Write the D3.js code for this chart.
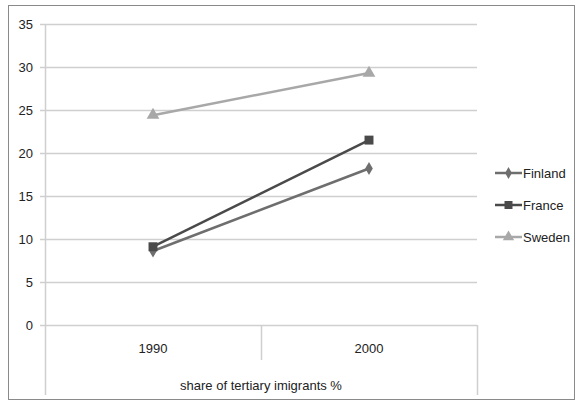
<!DOCTYPE html>
<html>
<head>
<meta charset="utf-8">
<script src="https://cdn.jsdelivr.net/npm/d3@7"></script>
<style>
  body { margin: 0; background: #fff; }
  text { font-family: "Liberation Sans", "DejaVu Sans", sans-serif; font-size: 13px; fill: #222; }
</style>
</head>
<body>
<script>
// data
var years = ["1990", "2000"];
var yTicks = [0, 5, 10, 15, 20, 25, 30, 35];
var finland = [8.6, 18.2];
var france = [9.1, 21.5];
var sweden = [24.4, 29.3];
var seriesNames = ["Finland", "France", "Sweden"];
var seriesColors = ["#6e6e6e", "#4a4a4a", "#a8a8a8"];
var axisTitle = "share of tertiary imigrants %";

var w = 578, h = 402;
var margin = {top: 24, right: 101, bottom: 77, left: 45};

var svg = d3.select("body").append("svg")
    .attr("width", w)
    .attr("height", h);

// outer frame
svg.append("rect")
    .attr("x", 8.5).attr("y", 5.5)
    .attr("width", 566).attr("height", 394)
    .attr("fill", "#fff").attr("stroke", "#8a8a8a");

var x = d3.scaleBand().domain(years).range([margin.left, w - margin.right]);
var y = d3.scaleLinear().domain([0, 35]).range([h - margin.bottom, margin.top]);

// gridlines
svg.append("g").selectAll("line")
    .data(yTicks)
    .enter().append("line")
    .attr("x1", margin.left - 5).attr("x2", w - margin.right)
    .attr("y1", function(d) { return Math.round(y(d)) + 0.5; })
    .attr("y2", function(d) { return Math.round(y(d)) + 0.5; })
    .attr("stroke", "#cfcfcf").attr("stroke-width", 1.5);

// y axis line
svg.append("line")
    .attr("x1", margin.left + 0.5).attr("x2", margin.left + 0.5)
    .attr("y1", y(35)).attr("y2", h - 7)
    .attr("stroke", "#cfcfcf").attr("stroke-width", 1.5);

// y labels
svg.append("g").selectAll("text")
    .data(yTicks)
    .enter().append("text")
    .attr("x", 33)
    .attr("y", function(d) { return y(d); })
    .attr("dy", "0.35em")
    .style("text-anchor", "end")
    .text(function(d) { return d; });

// category axis boxes
var y0 = y(0);
svg.append("line")
    .attr("x1", x("2000") + 0.5).attr("x2", x("2000") + 0.5)
    .attr("y1", y0).attr("y2", y0 + 35)
    .attr("stroke", "#cfcfcf").attr("stroke-width", 1.5);
svg.append("line")
    .attr("x1", w - margin.right + 0.5).attr("x2", w - margin.right + 0.5)
    .attr("y1", y0).attr("y2", h - 7)
    .attr("stroke", "#cfcfcf").attr("stroke-width", 1.5);

svg.append("g").selectAll("text")
    .data(years)
    .enter().append("text")
    .attr("x", function(d) { return x(d) + x.bandwidth() / 2; })
    .attr("y", y0 + 28)
    .style("text-anchor", "middle")
    .text(function(d) { return d; });

svg.append("text")
    .attr("x", (margin.left + w - margin.right) / 2)
    .attr("y", y0 + 65)
    .style("text-anchor", "middle")
    .text(axisTitle);

// series
var allSeries = [finland, france, sweden];
var line = d3.line()
    .x(function(d, i) { return x(years[i]) + x.bandwidth() / 2; })
    .y(function(d) { return y(d); });

var symbols = [d3.symbolDiamond, d3.symbolSquare, d3.symbolTriangle];
var symSizes = [50, 80, 70];

allSeries.forEach(function(vals, k) {
  svg.append("path")
      .attr("d", line(vals))
      .attr("fill", "none")
      .attr("stroke", seriesColors[k])
      .attr("stroke-width", 2.5);
  svg.append("g").selectAll("path")
      .data(vals)
      .enter().append("path")
      .attr("transform", function(d, i) {
        return "translate(" + (x(years[i]) + x.bandwidth() / 2) + "," + y(d) + ")";
      })
      .attr("d", d3.symbol().type(symbols[k]).size(symSizes[k]))
      .attr("fill", seriesColors[k]);
});

// legend
var legend = svg.append("g").selectAll("g")
    .data(seriesNames)
    .enter().append("g")
    .attr("transform", function(d, i) { return "translate(495," + (173 + i * 32) + ")"; });

legend.append("line")
    .attr("x1", 0).attr("x2", 27)
    .attr("stroke", function(d, i) { return seriesColors[i]; })
    .attr("stroke-width", 2.5);
legend.append("path")
    .attr("transform", "translate(13.5,0)")
    .attr("d", function(d, i) { return d3.symbol().type(symbols[i]).size(symSizes[i] * 0.8)(); })
    .attr("fill", function(d, i) { return seriesColors[i]; });
legend.append("text")
    .attr("x", 28)
    .attr("dy", "0.35em")
    .text(function(d) { return d; });
</script>
</body>
</html>
